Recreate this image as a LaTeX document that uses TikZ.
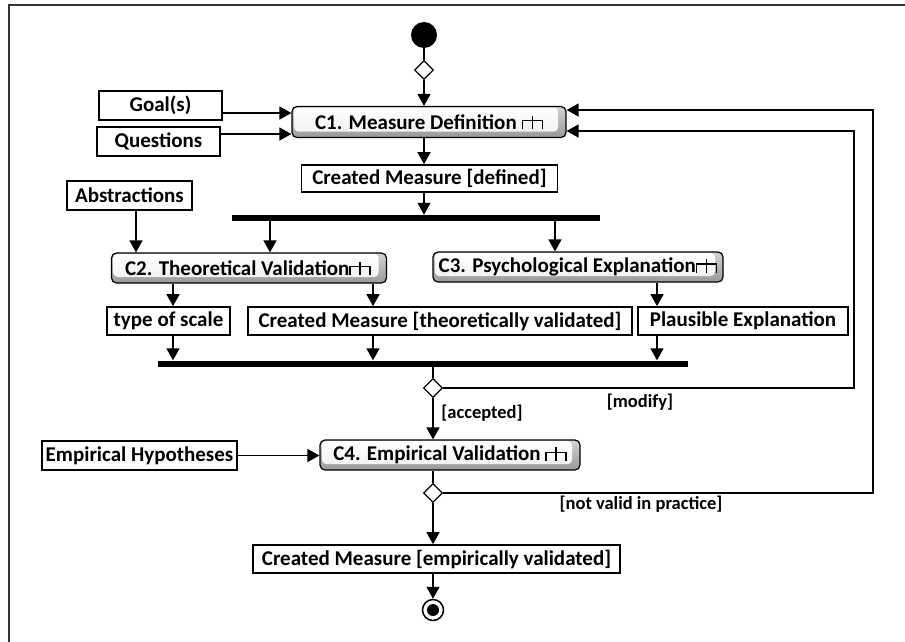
\documentclass[tikz,border=0pt]{standalone}
\usepackage{fontspec}
\setmainfont{Carlito}
\usetikzlibrary{arrows.meta,shapes.geometric}
\newcommand{\rakesym}{\tikz[x=1pt,y=1pt,line width=1.4pt,baseline=0pt,sharp corners]{\draw (0,0)--(0,8.5)--(20,8.5)--(20,0); \draw (10,0)--(10,13.5);}}
\begin{document}
\begin{tikzpicture}[x=1pt,y=-1pt,
  arr/.style={line width=1.5pt,-{Triangle[length=12pt,width=13pt]}},
  ln/.style={line width=1.5pt},
  obj/.style={draw, line width=1.7pt, inner sep=0pt, font=\bfseries\fontsize{21}{24}\selectfont},
  act/.style={draw, line width=1.2pt, rounded corners=5pt, inner sep=0pt, font=\bfseries\fontsize{21}{24}\selectfont,
    path picture={
      \shade[top color=gray!35, bottom color=gray!80] (path picture bounding box.south west) rectangle (path picture bounding box.north east);
      \shade[top color=white, bottom color=gray!10, rounded corners=4pt] ([shift={(2pt,-1pt)}]path picture bounding box.north west) rectangle ([shift={(-8pt,6pt)}]path picture bounding box.south east);
    }},
  bar/.style={fill=black, inner sep=0pt, minimum height=6pt},
  dec/.style={draw, diamond, fill=white, line width=1.3pt, inner sep=0pt, minimum width=19pt, minimum height=19pt},
  lab/.style={font=\bfseries\fontsize{18.5}{21}\selectfont}]
\useasboundingbox (0,0) rectangle (905,641);
% frame
\draw[line width=1.4pt, black!80] (9,660) -- (9,5) -- (920,5);
% nodes
\node[circle, fill=black, inner sep=0pt, minimum size=26pt] (init) at (424,35) {};
\node[dec] (d1) at (424,70) {};
\node[act, minimum width=274pt, minimum height=31pt] (C1) at (429,122) {C1. Measure Definition \rakesym};
\node[obj, minimum width=123pt, minimum height=29pt] (goal) at (160.5,105.5) {Goal(s)};
\node[obj, minimum width=123pt, minimum height=29pt] (quest) at (158.5,141.5) {Questions};
\node[obj, minimum width=256pt, minimum height=27pt] (cm1) at (429.5,178.5) {Created Measure [defined]};
\node[bar, minimum width=368pt] (bar1) at (416,218) {};
\node[obj, minimum width=125pt, minimum height=29pt] (abs) at (129.5,195.5) {Abstractions};
\node[act, minimum width=275pt, minimum height=30pt] (C2) at (249,268) {\hspace{-2pt}C2. Theoretical Validation\rakesym\hspace{8pt}};
\node[act, minimum width=290pt, minimum height=30pt] (C3) at (578,267) {C3. Psychological Explanation\rakesym\hspace{-4pt}};
\node[obj, minimum width=123pt, minimum height=28pt] (tos) at (168.5,321) {type of scale};
\node[obj, minimum width=384pt, minimum height=28pt] (cm2) at (440,321) {Created Measure [theoretically validated]};
\node[obj, minimum width=210pt, minimum height=28pt] (pe) at (743,321) {Plausible Explanation};
\node[bar, minimum width=530pt] (bar2) at (423,363.5) {};
\node[dec] (d2) at (433,388) {};
\node[act, minimum width=260pt, minimum height=30pt] (C4) at (450,455) {C4. Empirical Validation \rakesym};
\node[obj, minimum width=195pt, minimum height=29pt] (eh) at (139.5,455.5) {Empirical Hypotheses};
\node[dec] (d3) at (433,493) {};
\node[obj, minimum width=367pt, minimum height=28pt] (cm3) at (436.5,559) {Created Measure [empirically validated]};
\node[circle, draw, line width=1.5pt, inner sep=0pt, minimum size=21pt] (fin) at (433,610) {};
\node[circle, fill=black, inner sep=0pt, minimum size=12pt] (finc) at (fin) {};
% helper coordinates
\coordinate (m1) at (854,388);
\coordinate (m2) at (854,131);
\coordinate (n1) at (873,493);
\coordinate (n2) at (873,110);
% connectors
\draw[ln] (init) -- (d1);
\draw[arr] (d1) -- (d1 |- C1.north);
\draw[arr] (goal.east |- 0,113) -- (C1.west |- 0,113);
\draw[arr] (quest.east |- 0,134) -- (C1.west |- 0,134);
\draw[arr] (C1.south -| 424,0) -- (cm1.north -| 424,0);
\draw[arr] (cm1.south -| 424,0) -- (bar1.north -| 424,0);
\draw[arr] (bar1.south -| 270,0) -- (C2.north -| 270,0);
\draw[arr] (bar1.south -| 555,0) -- (C3.north -| 555,0);
\draw[arr] (abs.south -| 136,0) -- (C2.north -| 136,0);
\draw[arr] (C2.south -| 173,0) -- (tos.north -| 173,0);
\draw[arr] (C2.south -| 373,0) -- (cm2.north -| 373,0);
\draw[arr] (C3.south -| 657,0) -- (pe.north -| 657,0);
\draw[arr] (tos.south -| 173,0) -- (bar2.north -| 173,0);
\draw[arr] (cm2.south -| 373,0) -- (bar2.north -| 373,0);
\draw[arr] (pe.south -| 657,0) -- (bar2.north -| 657,0);
\draw[ln] (bar2.south -| d2) -- (d2.north);
\draw[arr] (d2.south) -- (d2 |- C4.north);
\draw[arr] (d2.east) -- (m1) -- (m2) -- (C1.east |- m2);
\draw[arr] (eh.east) -- (C4.west |- eh.east);
\draw[ln] (C4.south -| d3) -- (d3.north);
\draw[arr] (d3.east) -- (n1) -- (n2) -- (C1.east |- n2);
\draw[arr] (d3.south) -- (d3 |- cm3.north);
\draw[arr] (cm3.south -| fin) -- (fin.north);
% labels
\node[lab] (lmod) at (640,402) {[modify]};
\node[lab] (lacc) at (482,413) {[accepted]};
\node[lab] (lnv) at (641,504) {[not valid in practice]};
\end{tikzpicture}
\end{document}
